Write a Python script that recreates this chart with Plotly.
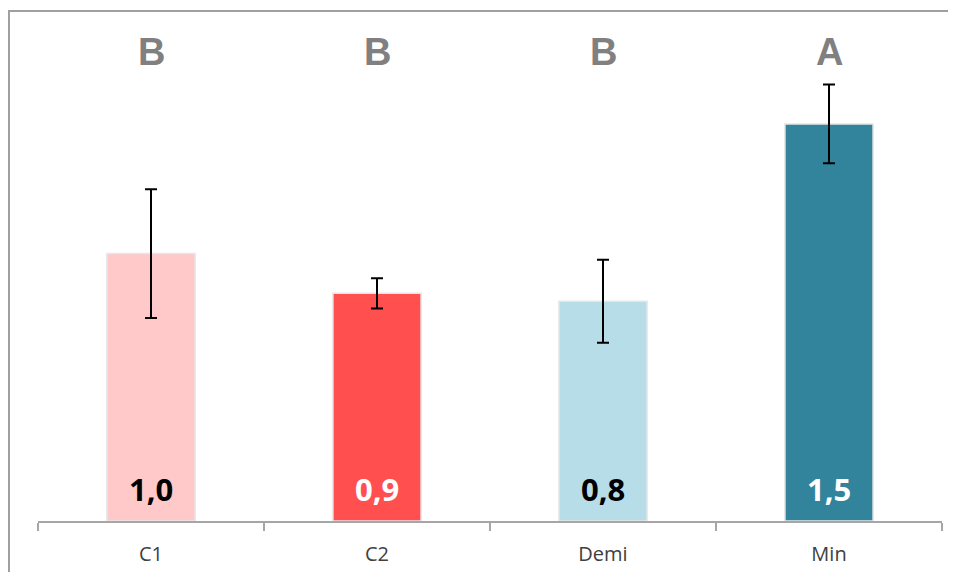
import plotly.graph_objects as go

categories = ["C1", "C2", "Demi", "Min"]
means = [1.01, 0.86, 0.83, 1.50]
errors = [0.243, 0.057, 0.157, 0.149]
letters = ["B", "B", "B", "A"]
bar_colors = ["#FFC9C9", "#FF4F4F", "#B6DDE8", "#31849B"]
label_colors = ["#000000", "#FFFFFF", "#000000", "#FFFFFF"]

# page body adds an 8px margin; size the figure so the page fits the window
W, H = 940, 564
ml, mr, mt, mb = 30, 6, 10, 51
ymax = 1.9

fig = go.Figure()
fig.add_trace(go.Bar(
    x=categories, y=means,
    marker=dict(color=bar_colors, line=dict(color="#E6E6E6", width=1.5)),
    error_y=dict(type="data", array=errors, visible=True, color="#000000",
                 thickness=2, width=6),
    width=0.39,
    hoverinfo="x+y",
))

annotations = []
for c, v, lc in zip(categories, means, label_colors):
    annotations.append(dict(
        x=c, y=0, xref="x", yref="y", yanchor="middle", yshift=32,
        text=f"<b>{v:.1f}</b>".replace(".", ","), showarrow=False,
        font=dict(family="Open Sans, Noto Sans, sans-serif", size=31, color=lc)))
for c, l in zip(categories, letters):
    annotations.append(dict(
        x=c, y=1.772, xref="x", yref="y", yanchor="middle",
        text=f"<b>{l}</b>", showarrow=False,
        font=dict(family="Liberation Sans, Arial, sans-serif", size=38, color="#808080")))

plot_w = W - ml - mr
plot_h = H - mt - mb
bx0 = (1 - ml) / plot_w
bx1 = (W - ml) / plot_w
by0 = -(H - (H - mb)) / plot_h
by1 = ((H - mb) - 3) / plot_h
fig.update_layout(
    width=W, height=H,
    margin=dict(l=ml, r=mr, t=mt, b=mb, autoexpand=False),
    paper_bgcolor="white", plot_bgcolor="white",
    showlegend=False,
    bargap=0.61,
    annotations=annotations,
    xaxis=dict(
        type="category", showline=True, linecolor="#A6A6A6", linewidth=1.5,
        ticks="outside", tickson="boundaries", ticklen=8, tickcolor="#A6A6A6",
        tickwidth=1.5, showgrid=False, zeroline=False, ticklabelstandoff=14,
        tickfont=dict(family="Open Sans, Noto Sans, sans-serif", size=20, color="#404040"),
    ),
    yaxis=dict(range=[0, ymax], visible=False, showgrid=False, zeroline=False),
    shapes=[dict(
        type="path", xref="paper", yref="paper",
        path=f"M {bx0},{by0} L {bx0},{by1} L {bx1},{by1}",
        line=dict(color="#A0A0A0", width=2), layer="below",
    )],
)

fig.write_html("out.html")
